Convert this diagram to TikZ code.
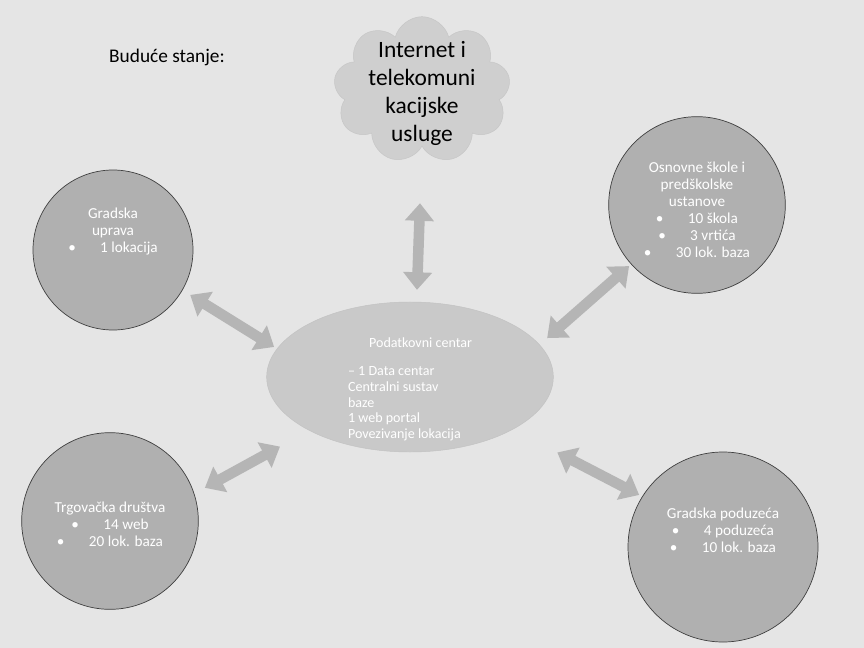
\documentclass[tikz,border=0pt]{standalone}
\usepackage{fontspec}
\setmainfont{Carlito}
\usepackage{tikz}
\usetikzlibrary{positioning,shapes.geometric,shapes.symbols,arrows.meta}

\tikzset{
	krug/.style={shape=circle,draw=black!75,line width=0.6pt,fill=gray!62,text=white,align=center,font=\fontsize{13}{14.5}\selectfont},
	veza/.style={line width=9pt,{Triangle[width=24pt,length=15pt]}-{Triangle[width=24pt,length=15pt]},color=gray!58}
}
\newcommand{\stavka}[1]{\textbullet\hspace{1.6em}#1}

\begin{document}
\begin{tikzpicture}[x=0.03cm,y=-0.03cm]
	
	\fill[gray!20] (0,0) rectangle (864,648);
	\useasboundingbox (0,0) rectangle (864,648);
	
	\node[font=\fontsize{16.5}{19}\selectfont] (naslov) at (167,57) {Buduće stanje:};
	
	\node[shape=cloud,cloud puffs=9,aspect=1.15,inner sep=0pt,fill=gray!38,draw=gray!45,minimum width=5.3cm,minimum height=4.4cm,
		label={[align=center,font=\fontsize{20}{24}\selectfont,yshift=-0.1cm]center:{Internet i\\telekomuni\\kacijske\\usluge}}] (oblak) at (422,90) {};
	
	\node[shape=ellipse,fill=gray!42,draw=gray!48,minimum width=8.6cm,minimum height=4.5cm,
		label={[text=white,align=left,font=\fontsize{12}{13.5}\selectfont,yshift=-0.38cm]center:{\hspace{1.5em}Podatkovni centar\\[10pt]– 1 Data centar\\Centralni sustav\\baze\\1 web portal\\Povezivanje lokacija}}] (centar) at (410,377) {};
	
	\node[krug,minimum size=4.8cm] (uprava) at (113,250) {Gradska\\uprava\\\stavka{1 lokacija}\\[20pt]\mbox{}};
	\node[krug,minimum size=5.3cm] (skole) at (697,205) {\mbox{}\\[2pt]Osnovne škole i\\predškolske\\ustanove\\\stavka{10 škola}\\\stavka{3 vrtića}\\\stavka{30 lok. baza}};
	\node[krug,minimum size=5.3cm] (drustva) at (110,521) {\\Trgovačka društva\\\stavka{14 web}\\\stavka{20 lok. baza}};
	\node[krug,minimum size=5.7cm] (poduzeca) at (723,547) {Gradska poduzeća\\\stavka{4 poduzeća}\\\stavka{10 lok. baza}\\[14pt]\mbox{}};
	
	\draw[veza,shorten <=1.7cm,shorten >=0.36cm] (oblak.south) -- (centar.85);
	\draw[veza,shorten <=0.27cm,shorten >=0.1cm] (uprava.-30) -- (centar.168);
	\draw[veza,shorten <=0.08cm,shorten >=0.3cm] (skole.222) -- (centar.14);
	\draw[veza,shorten <=0.36cm,shorten >=1.0cm] (drustva.18) -- (centar.208);
	\draw[veza,shorten <=0.1cm,shorten >=1.5cm] (poduzeca.148) -- (centar.-27);
	
\end{tikzpicture}
\end{document}
